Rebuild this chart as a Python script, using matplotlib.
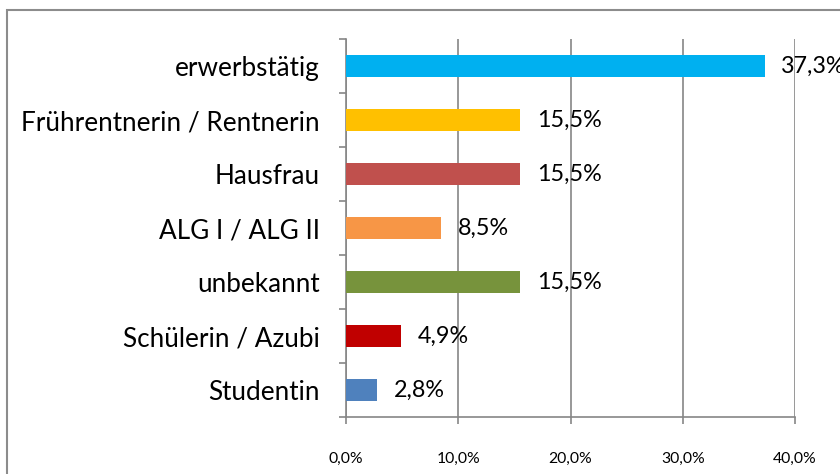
import matplotlib.pyplot as plt
from matplotlib.patches import Rectangle

categories = ["erwerbstätig", "Frührentnerin / Rentnerin", "Hausfrau", "ALG I / ALG II",
              "unbekannt", "Schülerin / Azubi", "Studentin"]
values = [37.3, 15.5, 15.5, 8.5, 15.5, 4.9, 2.8]
colors = ["#00B0F0", "#FFC000", "#C0504D", "#F79646", "#77933C", "#C00000", "#4F81BD"]
xticks = [0, 10, 20, 30, 40]

plt.rcParams["font.family"] = ["Lato", "DejaVu Sans"]
grey = "#868686"

fig = plt.figure(figsize=(8.4, 4.74), dpi=100)
ax = fig.add_axes([346 / 840, 1 - 417 / 474, 449 / 840, 378 / 474])

ypos = list(range(len(categories)))[::-1]
ax.barh(ypos, values, height=0.41, color=colors, zorder=3)

for y, v in zip(ypos, values):
    ax.annotate(f"{v:.1f}%".replace(".", ","), (v, y), xytext=(12, 0),
                textcoords="offset points", va="center", ha="left", fontsize=16.8,
                zorder=4)

ax.set_xlim(0, 40)
ax.set_ylim(-0.5, len(categories) - 0.5)
ax.set_xticks(xticks)
ax.set_xticklabels([f"{t:.1f}%".replace(".", ",") for t in xticks], fontsize=11.3)
ax.set_yticks(ypos)
ax.set_yticklabels(categories, fontsize=18.8)
ax.set_yticks([i - 0.5 for i in range(len(categories) + 1)], minor=True)
ax.tick_params(axis="y", which="major", length=0, pad=19)
ax.tick_params(axis="y", which="minor", length=5, color=grey, width=1.2)
ax.tick_params(axis="x", length=5, color=grey, width=1.2, pad=20)

ax.grid(axis="x", color=grey, linewidth=1.2, zorder=0)
for s in ["top", "right"]:
    ax.spines[s].set_visible(False)
for s in ["left", "bottom"]:
    ax.spines[s].set_color(grey)
    ax.spines[s].set_linewidth(1.2)

fig.patches.append(Rectangle((7 / 840, -0.1), 1.2, 1 - 10 / 474 + 0.1,
                             transform=fig.transFigure, fill=False,
                             edgecolor="#8C8C8C", linewidth=1.5))

fig.savefig("out.png", dpi=100)
